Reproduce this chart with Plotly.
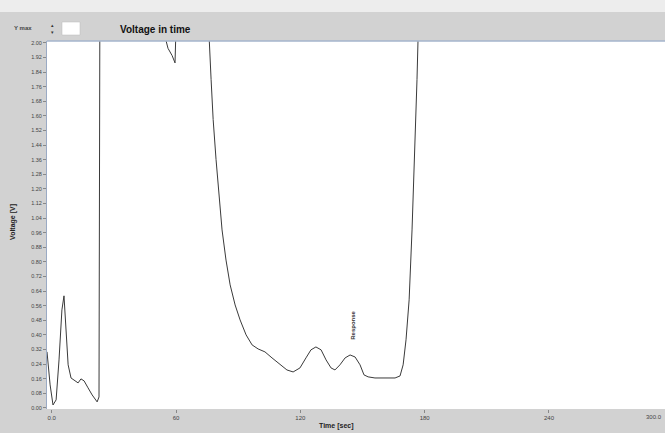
import plotly.graph_objects as go

# ---- data (time in seconds, voltage in volts) ----
time_s = [-2.3, -0.8, 0.6, 2.1, 3.5, 4.9, 5.9, 6.9, 7.9, 9.3, 11.2, 12.7, 14.1, 15.6,
          17.5, 19.5, 21.9, 22.8, 23.3, 40.0, 54.3, 56.1, 58.1, 59.5, 60.5, 70.0, 75.5,
          76.0, 76.9, 77.9, 79.3, 80.8, 82.2, 84.1, 86.1, 88.5, 90.9, 93.8, 96.7, 99.6,
          102.9, 106.3, 110.2, 113.5, 116.5, 119.8, 122.7, 125.1, 127.5, 130.0, 132.4,
          134.8, 136.7, 139.1, 141.6, 144.0, 146.4, 148.8, 150.7, 152.7, 156.0, 160.9,
          165.7, 168.1, 169.6, 171.0, 172.5, 173.9, 175.3, 176.3, 176.8, 177.5, 240.0, 296.0]
voltage_v = [0.307, 0.126, 0.016, 0.044, 0.263, 0.537, 0.614, 0.427, 0.236, 0.164, 0.148,
             0.137, 0.159, 0.148, 0.110, 0.071, 0.033, 0.060, 2.6, 3.0, 2.05, 1.97, 1.93,
             1.89, 2.3, 3.0, 2.3, 2.02, 1.80, 1.58, 1.36, 1.14, 0.975, 0.81, 0.674, 0.564,
             0.482, 0.400, 0.345, 0.323, 0.307, 0.274, 0.236, 0.208, 0.197, 0.219, 0.274,
             0.318, 0.334, 0.318, 0.263, 0.219, 0.208, 0.236, 0.274, 0.290, 0.279, 0.236,
             0.181, 0.170, 0.164, 0.164, 0.164, 0.175, 0.236, 0.373, 0.592, 0.975, 1.41,
             1.80, 2.02, 2.6, 3.0, 3.0]

x_tickvals = [0, 60, 120, 180, 240]
x_ticktext = ["0.0", "60", "120", "180", "240"]
x_last_label = "300.0"

marker_label = "Response"
marker_time = 145.4
marker_volt = 0.45

W, H = 665, 433
L, R, T, B = 47, 0, 41, 24
pw, ph = W - L - R, H - T - B


def px(x):
    return (x - L) / pw


def py(y):
    return (H - B - y) / ph


GRAY = "#d2d2d2"
FONT = "Liberation Sans, Arial, sans-serif"

fig = go.Figure()
fig.add_trace(go.Scatter(x=time_s, y=voltage_v, mode="lines",
                         line=dict(color="#3a3a3a", width=1), showlegend=False,
                         hoverinfo="skip"))

fig.update_layout(
    width=W, height=H,
    margin=dict(l=L, r=R, t=T, b=B, pad=0, autoexpand=False),
    paper_bgcolor=GRAY, plot_bgcolor="white",
    font=dict(family=FONT, size=6, color="#333333"),
    xaxis=dict(range=[-2.3, 296], tickvals=x_tickvals, ticktext=x_ticktext,
               showgrid=False, zeroline=False, ticks="outside", ticklen=3,
               tickcolor="#888888", showline=False, automargin=False,
               tickfont=dict(size=6, color="#444444")),
    yaxis=dict(range=[-0.006, 2.01], tick0=0, dtick=0.08, tickformat=".2f",
               showgrid=False, zeroline=False, ticks="outside", ticklen=3,
               tickcolor="#888888", showline=True, linecolor="#9aaac4", linewidth=1,
               automargin=False, tickfont=dict(size=5.5, color="#444444")),
)

shapes = [
    # light strip at very top
    dict(type="rect", xref="paper", yref="paper", x0=px(0), x1=px(W), y0=py(12), y1=py(0),
         fillcolor="#ededed", line=dict(width=0), layer="below"),
    # header/plot border line
    dict(type="line", xref="paper", yref="paper", x0=px(L), x1=px(W), y0=py(41), y1=py(41),
         line=dict(color="#a4b4cc", width=1.5)),
    # Y max entry box
    dict(type="rect", xref="paper", yref="paper", x0=px(62), x1=px(80), y0=py(35), y1=py(22),
         fillcolor="white", line=dict(color="#bbbbbb", width=0.5)),
]
fig.update_layout(shapes=shapes)

ann = [
    dict(text="<b>Voltage in time</b>", xref="paper", yref="paper", x=px(118), y=py(30),
         xanchor="left", yanchor="middle", showarrow=False,
         font=dict(size=10, color="#111111", family=FONT)),
    dict(text="<b>Y max</b>", xref="paper", yref="paper", x=px(12), y=py(28),
         xanchor="left", yanchor="middle", showarrow=False,
         font=dict(size=6, color="#444444", family=FONT)),
    dict(text="▴<br>▾", xref="paper", yref="paper", x=px(52), y=py(28),
         xanchor="center", yanchor="middle", showarrow=False,
         font=dict(size=5, color="#333333", family=FONT)),
    dict(text="<b>Voltage [V]</b>", xref="paper", yref="paper", x=px(13), y=py(222),
         xanchor="center", yanchor="middle", textangle=-90, showarrow=False,
         font=dict(size=7, color="#222222", family=FONT)),
    dict(text="<b>Time [sec]</b>", xref="paper", yref="paper", x=px(336), y=py(426),
         xanchor="center", yanchor="middle", showarrow=False,
         font=dict(size=7, color="#222222", family=FONT)),
    dict(text=x_last_label, xref="paper", yref="paper", x=px(664), y=py(417),
         xanchor="right", yanchor="middle", showarrow=False,
         font=dict(size=6, color="#444444", family=FONT)),
    dict(text="<b>" + marker_label + "</b>", xref="x", yref="y", x=marker_time, y=marker_volt,
         xanchor="center", yanchor="middle", textangle=-90, showarrow=False,
         font=dict(size=6, color="#333333", family=FONT)),
]
fig.update_layout(annotations=ann)

fig.write_html("out.html", config={"displayModeBar": False},
               post_script="document.body.style.margin='0';document.body.style.overflow='hidden';")
